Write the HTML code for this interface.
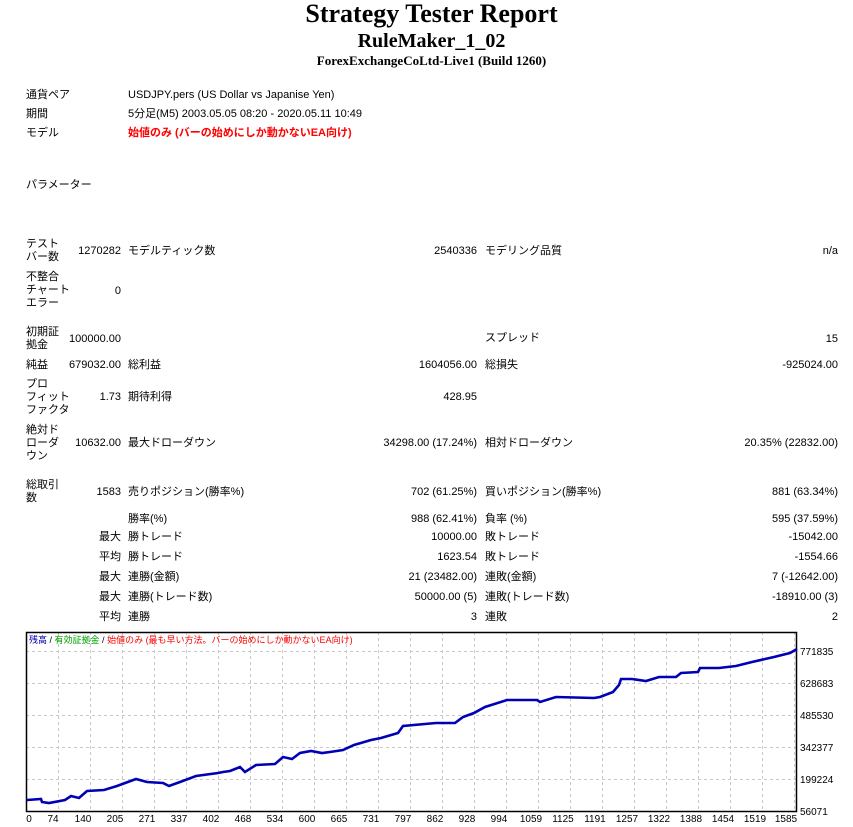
<!DOCTYPE html>
<html><head><meta charset="utf-8">
<style>
body{margin:0;background:#fff;width:853px;height:827px;position:relative;overflow:hidden;font-family:"Liberation Sans","Noto Sans CJK JP",sans-serif;font-size:11px;color:#000}
.t{position:absolute;white-space:nowrap;line-height:13px}
.r{text-align:right}
.h{position:absolute;left:0;width:863px;text-align:center;font-family:"Liberation Serif","Noto Serif CJK SC",serif;font-weight:bold;white-space:nowrap}
</style></head><body>
<div class="h" style="top:0px;font-size:26px;line-height:28px">Strategy Tester Report</div>
<div class="h" style="top:30px;font-size:20px;line-height:22px">RuleMaker_1_02</div>
<div class="h" style="top:53px;font-size:13px;line-height:15px">ForexExchangeCoLtd-Live1 (Build 1260)</div>

<div class="t" style="left:26px;top:89px">通貨ペア</div>
<div class="t" style="left:128px;top:89px">USDJPY.pers (US Dollar vs Japanise Yen)</div>
<div class="t" style="left:26px;top:108px">期間</div>
<div class="t" style="left:128px;top:108px">5分足(M5) 2003.05.05 08:20 - 2020.05.11 10:49</div>
<div class="t" style="left:26px;top:127px">モデル</div>
<div class="t" style="left:128px;top:127px;color:#f00;font-weight:bold">始値のみ (バーの始めにしか動かないEA向け)</div>
<div class="t" style="left:26px;top:179px">パラメーター</div>

<div class="t" style="left:26px;top:238px">テスト<br>バー数</div>
<div class="t r" style="right:732px;top:245px">1270282</div>
<div class="t" style="left:128px;top:245px">モデルティック数</div>
<div class="t r" style="right:376px;top:245px">2540336</div>
<div class="t" style="left:485px;top:245px">モデリング品質</div>
<div class="t r" style="right:15px;top:245px">n/a</div>

<div class="t" style="left:26px;top:271px">不整合<br>チャート<br>エラー</div>
<div class="t r" style="right:732px;top:285px">0</div>

<div class="t" style="left:26px;top:326px">初期証<br>拠金</div>
<div class="t r" style="right:732px;top:333px">100000.00</div>
<div class="t" style="left:485px;top:332px">スプレッド</div>
<div class="t r" style="right:15px;top:333px">15</div>

<div class="t" style="left:26px;top:359px">純益</div>
<div class="t r" style="right:732px;top:359px">679032.00</div>
<div class="t" style="left:128px;top:359px">総利益</div>
<div class="t r" style="right:376px;top:359px">1604056.00</div>
<div class="t" style="left:485px;top:359px">総損失</div>
<div class="t r" style="right:15px;top:359px">-925024.00</div>

<div class="t" style="left:26px;top:378px">プロ<br>フィット<br>ファクタ</div>
<div class="t r" style="right:732px;top:391px">1.73</div>
<div class="t" style="left:128px;top:391px">期待利得</div>
<div class="t r" style="right:376px;top:391px">428.95</div>

<div class="t" style="left:26px;top:424px">絶対ド<br>ローダ<br>ウン</div>
<div class="t r" style="right:732px;top:437px">10632.00</div>
<div class="t" style="left:128px;top:437px">最大ドローダウン</div>
<div class="t r" style="right:376px;top:437px">34298.00 (17.24%)</div>
<div class="t" style="left:485px;top:437px">相対ドローダウン</div>
<div class="t r" style="right:15px;top:437px">20.35% (22832.00)</div>

<div class="t" style="left:26px;top:479px">総取引<br>数</div>
<div class="t r" style="right:732px;top:486px">1583</div>
<div class="t" style="left:128px;top:486px">売りポジション(勝率%)</div>
<div class="t r" style="right:376px;top:486px">702 (61.25%)</div>
<div class="t" style="left:485px;top:486px">買いポジション(勝率%)</div>
<div class="t r" style="right:15px;top:486px">881 (63.34%)</div>

<div class="t" style="left:128px;top:513px">勝率(%)</div>
<div class="t r" style="right:376px;top:513px">988 (62.41%)</div>
<div class="t" style="left:485px;top:513px">負率 (%)</div>
<div class="t r" style="right:15px;top:513px">595 (37.59%)</div>

<div class="t" style="left:99px;top:531px">最大</div>
<div class="t" style="left:128px;top:531px">勝トレード</div>
<div class="t r" style="right:376px;top:531px">10000.00</div>
<div class="t" style="left:485px;top:531px">敗トレード</div>
<div class="t r" style="right:15px;top:531px">-15042.00</div>

<div class="t" style="left:99px;top:551px">平均</div>
<div class="t" style="left:128px;top:551px">勝トレード</div>
<div class="t r" style="right:376px;top:551px">1623.54</div>
<div class="t" style="left:485px;top:551px">敗トレード</div>
<div class="t r" style="right:15px;top:551px">-1554.66</div>

<div class="t" style="left:99px;top:571px">最大</div>
<div class="t" style="left:128px;top:571px">連勝(金額)</div>
<div class="t r" style="right:376px;top:571px">21 (23482.00)</div>
<div class="t" style="left:485px;top:571px">連敗(金額)</div>
<div class="t r" style="right:15px;top:571px">7 (-12642.00)</div>

<div class="t" style="left:99px;top:591px">最大</div>
<div class="t" style="left:128px;top:591px">連勝(トレード数)</div>
<div class="t r" style="right:376px;top:591px">50000.00 (5)</div>
<div class="t" style="left:485px;top:591px">連敗(トレード数)</div>
<div class="t r" style="right:15px;top:591px">-18910.00 (3)</div>

<div class="t" style="left:99px;top:611px">平均</div>
<div class="t" style="left:128px;top:611px">連勝</div>
<div class="t r" style="right:376px;top:611px">3</div>
<div class="t" style="left:485px;top:611px">連敗</div>
<div class="t r" style="right:15px;top:611px">2</div>

<svg style="position:absolute;left:0;top:0" width="853" height="827" font-family="Liberation Sans, Noto Sans CJK JP, sans-serif" font-size="10">
<g stroke="#c8c8c8" stroke-dasharray="3,3" stroke-width="1">
<line x1="26" y1="651.5" x2="797" y2="651.5"/><line x1="26" y1="683.5" x2="797" y2="683.5"/>
<line x1="26" y1="715.5" x2="797" y2="715.5"/><line x1="26" y1="747.5" x2="797" y2="747.5"/>
<line x1="26" y1="779.5" x2="797" y2="779.5"/>
</g>
<g stroke="#c8c8c8" stroke-dasharray="3,3">
<line x1="58.5" y1="632" x2="58.5" y2="811"/><line x1="90.5" y1="632" x2="90.5" y2="811"/><line x1="122.5" y1="632" x2="122.5" y2="811"/><line x1="154.5" y1="632" x2="154.5" y2="811"/><line x1="186.5" y1="632" x2="186.5" y2="811"/><line x1="218.5" y1="632" x2="218.5" y2="811"/><line x1="250.5" y1="632" x2="250.5" y2="811"/><line x1="282.5" y1="632" x2="282.5" y2="811"/><line x1="314.5" y1="632" x2="314.5" y2="811"/><line x1="346.5" y1="632" x2="346.5" y2="811"/><line x1="378.5" y1="632" x2="378.5" y2="811"/><line x1="410.5" y1="632" x2="410.5" y2="811"/><line x1="442.5" y1="632" x2="442.5" y2="811"/><line x1="474.5" y1="632" x2="474.5" y2="811"/><line x1="506.5" y1="632" x2="506.5" y2="811"/><line x1="538.5" y1="632" x2="538.5" y2="811"/><line x1="570.5" y1="632" x2="570.5" y2="811"/><line x1="602.5" y1="632" x2="602.5" y2="811"/><line x1="634.5" y1="632" x2="634.5" y2="811"/><line x1="666.5" y1="632" x2="666.5" y2="811"/><line x1="698.5" y1="632" x2="698.5" y2="811"/><line x1="730.5" y1="632" x2="730.5" y2="811"/><line x1="762.5" y1="632" x2="762.5" y2="811"/><line x1="794.5" y1="632" x2="794.5" y2="811"/>
</g>
<rect x="26.5" y="632.5" width="770" height="179" fill="none" stroke="#000" stroke-width="1.5"/>
<polyline fill="none" stroke="#0000b4" stroke-width="2.6" points="27,800 41,799 42,802 49,803 65,800 71,796 79,798 87,791 104,790 117,786 136,779 147,782 163,783 169,786 180,782 196,776 218,773 223,772 230,771 240,767 245,772 256,765 275,764 283,757 292,759 300,753 311,751 322,753 330,752 343,750 354,745 371,740 381,738 398,733 403,726 436,723 455,723 463,717 474,713 485,707 507,700 537,700 540,702 556,697 594,698 600,697 613,692 619,685 621,679 632,679 646,681 659,677 676,677 681,673 698,672 700,668 719,668 736,666 752,662 774,657 790,653 797,649"/>
<text x="29" y="643" font-size="9"><tspan fill="#0000b4">残高</tspan><tspan fill="#000"> / </tspan><tspan fill="#00a000">有効証拠金</tspan><tspan fill="#000"> / </tspan><tspan fill="#f00">始値のみ (最も早い方法。バーの始めにしか動かないEA向け)</tspan></text>
<g fill="#000">
<text x="800" y="655">771835</text><text x="800" y="687">628683</text><text x="800" y="719">485530</text><text x="800" y="751">342377</text><text x="800" y="783">199224</text><text x="800" y="815">56071</text>
</g>
<g fill="#000" text-anchor="middle">
<text x="29" y="822">0</text><text x="53" y="822">74</text><text x="83" y="822">140</text><text x="115" y="822">205</text><text x="147" y="822">271</text><text x="179" y="822">337</text><text x="211" y="822">402</text><text x="243" y="822">468</text><text x="275" y="822">534</text><text x="307" y="822">600</text><text x="339" y="822">665</text><text x="371" y="822">731</text><text x="403" y="822">797</text><text x="435" y="822">862</text><text x="467" y="822">928</text><text x="499" y="822">994</text><text x="531" y="822">1059</text><text x="563" y="822">1125</text><text x="595" y="822">1191</text><text x="627" y="822">1257</text><text x="659" y="822">1322</text><text x="691" y="822">1388</text><text x="723" y="822">1454</text><text x="755" y="822">1519</text><text x="786" y="822">1585</text>
</g>
</svg>
</body></html>
